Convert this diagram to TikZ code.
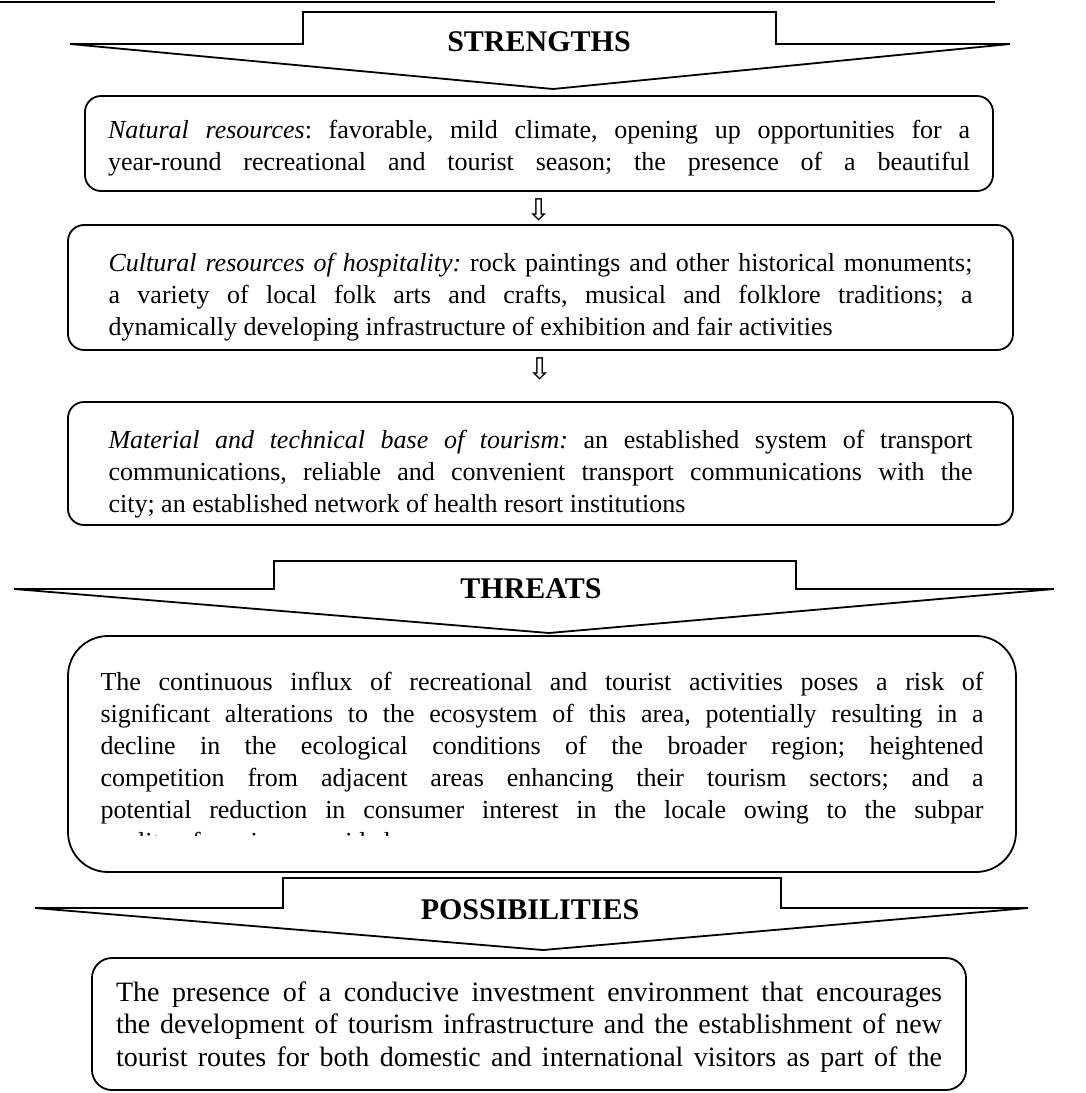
\documentclass[tikz,border=0pt]{standalone}
\usepackage{fontspec}
\setmainfont{Liberation Serif}
\newfontfamily\arrowfont{DejaVu Sans}
\usetikzlibrary{positioning}
\frenchspacing

\begin{document}
\begin{tikzpicture}[x=0.5pt,y=-0.5pt,
  infobox/.style={draw,line width=0.9pt,rounded corners=8pt,align=justify,inner xsep=0pt,inner ysep=0pt,
    font=\fontsize{13}{16}\selectfont},
  headtext/.style={font=\fontsize{15}{16}\selectfont\bfseries,inner sep=0pt},
  banner/.style={draw,line width=0.9pt,fill=white},
  flowarrow/.style={inner sep=0pt,font=\arrowfont\fontsize{15}{15}\selectfont}]
\useasboundingbox (0,0) rectangle (1086,1093);
\draw[line width=1.4pt] (0,2) -- (995,2);

% strengths
\draw[banner] (70,44) -- (303,44) -- (303,12) -- (776,12) -- (776,44) -- (1010,44) -- (553,89) -- cycle;
\node[headtext](strengths) at (539,42){STRENGTHS};

\node[infobox,text width=431pt,minimum width=454pt,minimum height=47.5pt](natural) at (539,143.5)
{\rule{0pt}{14pt}\textit{Natural resources}: favorable, mild climate, opening up opportunities for a\linebreak
year-round recreational and tourist season; the presence of a beautiful\parfillskip=0pt\par};
\node[flowarrow, below=3pt of natural](arrowA){⇩};
\node[infobox,text width=432pt,minimum width=472.5pt,minimum height=62.5pt](cultural) at (540.5,287.5)
{\rule{0pt}{19pt}\textit{Cultural resources of hospitality:} rock paintings and other historical monuments;\linebreak
a variety of local folk arts and crafts, musical and folklore traditions; a\linebreak
dynamically developing infrastructure of exhibition and fair activities};
\node[flowarrow, below=3pt of cultural](arrowB){⇩};
\node[infobox,text width=432pt,minimum width=472.5pt,minimum height=61.5pt](material) at (540.5,463.5)
{\rule{0pt}{20pt}\textit{Material and technical base of tourism:} an established system of transport\linebreak
communications, reliable and convenient transport communications with the\linebreak
city; an established network of health resort institutions};

% threats
\draw[banner] (14,589) -- (274,589) -- (274,561) -- (796,561) -- (796,589) -- (1054,589) -- (549,633) -- cycle;
\node[headtext](threats) at (531,589){THREATS};

\node[infobox,rounded corners=20pt,minimum width=474pt,minimum height=118pt](threatbox) at (542,754){};
\begin{scope}
\clip (threatbox.north west) rectangle ([yshift=18.5pt]threatbox.south east);
\node[infobox,draw=none,text width=441.5pt,below=18pt of threatbox.north](threattext)
{The continuous influx of recreational and tourist activities poses a risk of\linebreak
significant alterations to the ecosystem of this area, potentially resulting in a\linebreak
decline in the ecological conditions of the broader region; heightened\linebreak
competition from adjacent areas enhancing their tourism sectors; and a\linebreak
potential reduction in consumer interest in the locale owing to the subpar\linebreak
quality of services provided};
\end{scope}

% possibilities
\draw[banner] (35,908) -- (283,908) -- (283,878) -- (781,878) -- (781,908) -- (1028,908) -- (543,950) -- cycle;
\node[headtext](possibilities) at (530,910){POSSIBILITIES};

\node[infobox,rounded corners=10pt,text width=413pt,minimum width=437pt,minimum height=66pt,
  font=\fontsize{14}{16.25}\selectfont](investment) at (529,1024)
{\rule{0pt}{12.6pt}The presence of a conducive investment environment that encourages\linebreak
the development of tourism infrastructure and the establishment of new\linebreak
tourist routes for both domestic and international visitors as part of the\parfillskip=0pt\par};

\end{tikzpicture}
\end{document}
